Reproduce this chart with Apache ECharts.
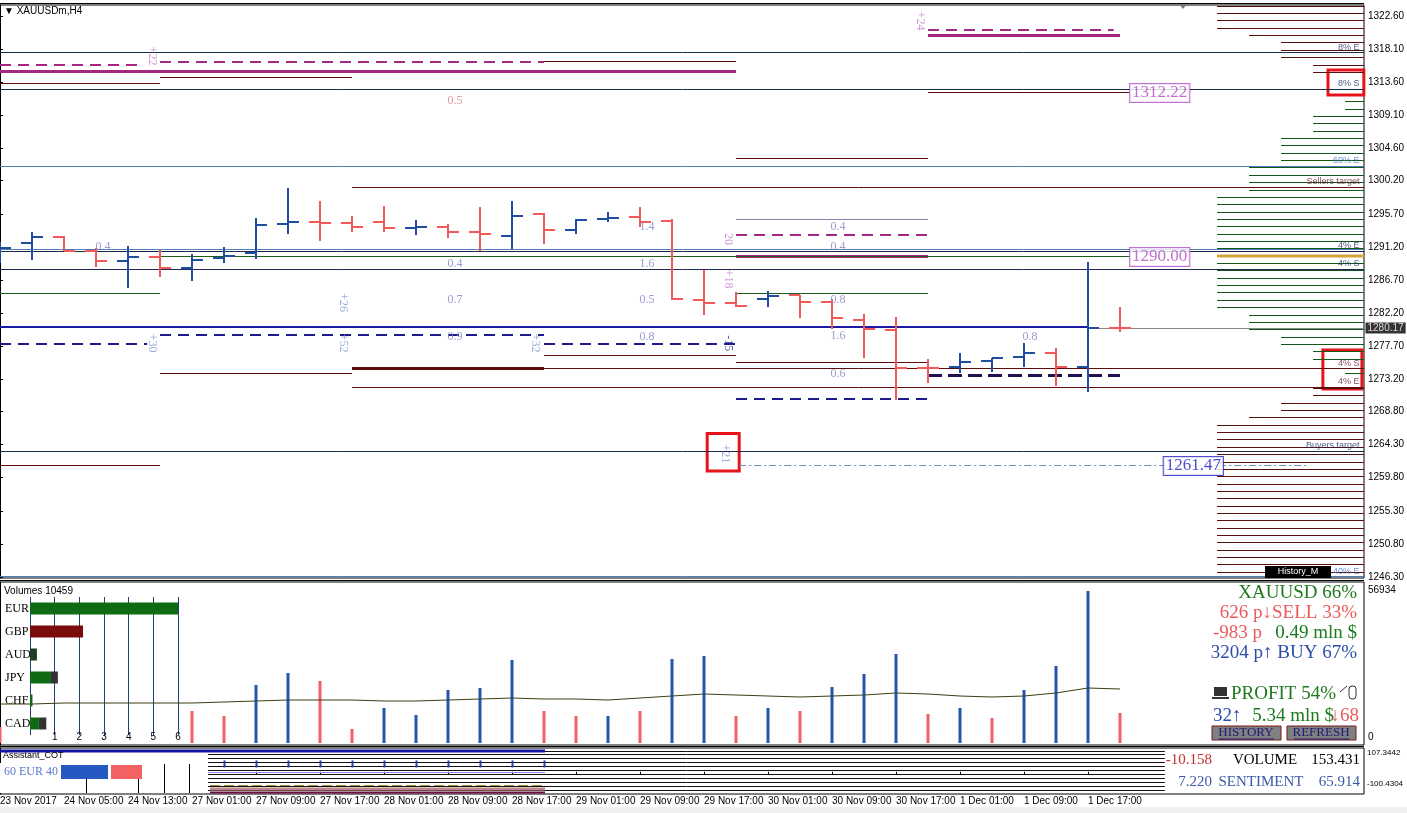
<!DOCTYPE html>
<html><head><meta charset="utf-8">
<script src="https://cdn.jsdelivr.net/npm/echarts@6/dist/echarts.min.js"></script>
<style>html,body{margin:0;padding:0;background:#fff;overflow:hidden}#c{width:1407px;height:813px}</style>
</head><body><div id="c"></div>
<script>
// ---------- DATA ----------
const times = ['23 Nov 21:00','24 Nov 01:00','24 Nov 05:00','24 Nov 09:00','24 Nov 13:00','26 Nov 21:00',
 '27 Nov 01:00','27 Nov 05:00','27 Nov 09:00','27 Nov 13:00','27 Nov 17:00','27 Nov 21:00',
 '28 Nov 01:00','28 Nov 05:00','28 Nov 09:00','28 Nov 13:00','28 Nov 17:00','28 Nov 21:00',
 '29 Nov 01:00','29 Nov 05:00','29 Nov 09:00','29 Nov 13:00','29 Nov 17:00','29 Nov 21:00',
 '30 Nov 01:00','30 Nov 05:00','30 Nov 09:00','30 Nov 13:00','30 Nov 17:00','30 Nov 21:00',
 '1 Dec 01:00','1 Dec 05:00','1 Dec 09:00','1 Dec 13:00','1 Dec 17:00','1 Dec 21:00'];
const xTickIdx = [0,2,4,6,8,10,12,14,16,18,20,22,24,26,28,30,32,34];
const xTickLabels = ['23 Nov 2017','24 Nov 05:00','24 Nov 13:00','27 Nov 01:00','27 Nov 09:00','27 Nov 17:00',
 '28 Nov 01:00','28 Nov 09:00','28 Nov 17:00','29 Nov 01:00','29 Nov 09:00','29 Nov 17:00',
 '30 Nov 01:00','30 Nov 09:00','30 Nov 17:00','1 Dec 01:00','1 Dec 09:00','1 Dec 17:00'];
// open, high, low, close
const ohlc = [
 [1290.09,1291.90,1289.01,1291.05],[1291.69,1293.26,1289.41,1292.58],[1292.58,1292.62,1290.62,1290.68],
 [1290.68,1291.00,1288.50,1289.28],[1289.28,1291.32,1285.56,1289.86],[1289.86,1290.77,1287.14,1288.28],
 [1288.28,1290.23,1286.60,1289.41],[1289.64,1291.22,1288.96,1289.96],[1290.41,1295.08,1289.51,1294.17],
 [1294.27,1299.17,1292.95,1294.62],[1294.62,1297.48,1292.04,1294.41],[1294.41,1295.40,1293.26,1293.94],
 [1294.62,1296.76,1293.18,1293.81],[1293.70,1294.85,1292.81,1293.90],[1293.94,1294.27,1292.37,1293.26],
 [1293.26,1296.66,1290.68,1292.91],[1292.72,1297.48,1290.87,1295.44],[1295.63,1295.77,1291.55,1293.49],
 [1293.49,1294.95,1292.91,1294.85],[1294.99,1295.90,1294.62,1295.17],[1295.30,1296.66,1293.94,1294.62],
 [1294.72,1294.95,1283.97,1284.07],[1283.97,1288.05,1281.93,1283.61],[1283.52,1285.02,1282.98,1283.16],
 [1284.11,1285.20,1283.06,1284.52],[1284.65,1284.70,1281.48,1283.74],[1283.66,1284.11,1279.99,1281.48],
 [1281.25,1282.03,1276.13,1280.03],[1279.89,1281.70,1270.37,1274.77],[1274.77,1275.95,1272.64,1274.68],
 [1274.90,1276.72,1274.00,1275.58],[1275.72,1276.10,1274.22,1276.04],[1276.18,1278.08,1274.90,1276.80],
 [1276.80,1277.40,1272.32,1274.90],[1274.90,1289.18,1271.50,1280.12],[1280.23,1283.06,1279.66,1280.17]];
const volumes = [5950,null,null,null,null,null,11900,10050,21580,26050,23070,5210,13020,10420,19720,20470,30890,11910,
 10050,10050,11910,31260,32370,10050,13020,11910,20840,25680,33120,10790,13020,9300,19720,28650,56560,11160];
const volUp = [0,null,null,null,null,null,0,0,1,1,0,0,1,1,1,1,1,0,0,1,0,1,1,0,1,0,1,1,1,0,1,0,1,1,1,0];
const volMA = [14512,14512,14884,14884,14884,14884,14884,15256,15628,16000,16000,16000,15628,15628,16000,16372,16745,16372,
 16372,16000,16745,17489,18233,17861,17489,17117,17489,17861,18605,18233,17489,17117,17489,18605,20466,20093];
const yTicks = [1246.30,1250.80,1255.30,1259.80,1264.30,1268.80,1273.20,1277.70,1282.20,1286.70,1291.20,1295.70,1300.20,1304.60,1309.10,1313.60,1318.10,1322.60];
const lastPrice = 1280.17;
const volMaxLabel = 56934;
// volume profile (price level, signed strength: + buyers, - sellers)
const profPrices = [1324,1323,1322,1321,1320,1319,1318,1317,1316,1315,1314,1313,1312,1311,1310,1309,1308,1307,1306,1305,
 1304,1303,1302,1301,1300,1299,1298,1297,1296,1295,1294,1293,1292,1291,1290,1289,1288,1287,1286,1285,1284,1283,1282,1281,
 1280,1279,1278,1277,1276,1275,1274,1273,1272,1271,1270,1269,1268,1267,1266,1265,1264,1263,1262,1261,1260,1259,1258,1257,
 1256,1255,1254,1253,1252,1251,1250,1249,1248,1247];
const profStrength = [-5,-5,-5,-5,-4,-3,-3,-3,-2,-2,0,0,0,1,1,2,2,2,3,3,3,3,4,4,4,4,5,5,5,5,5,5,5,5,5,5,5,5,5,5,5,5,4,4,
 4,3,3,2,2,0,1,0,-2,-2,-3,-3,-4,-5,-5,-5,-5,-5,-5,-5,-5,-5,-5,-5,-5,-5,-5,-5,-5,-5,-5,-5,-5,-5];
const profPOC = 1290;
// horizontal level segments: [price, fromBar, toBar]
const segNavy = [[1317.70,0,42.7],[1312.67,0,42.7],[1290.64,0,42.7],[1288.19,0,42.7],[1263.44,0,42.7]];
const segSteel = [[1302.20,0,42.7],[1290.91,0,42.7],[1246.40,0,42.7]];
const segDarkRed = [[1313.53,0,5],[1314.34,5,11],[1316.48,17,23],[1312.22,29,35.3],[1303.29,23,29],[1299.34,11,42.7],
 [1276.49,17,23],[1275.54,23,29],[1274.72,11,42.7],[1274.00,5,11],[1272.18,11,42.7],[1261.54,0,5]];
const segDarkRedThick = [[1274.72,11,17]];
const segMagentaThick = [[1315.12,0,23],[1320.02,29,35],[1289.96,23,29]];
const segMagentaDash = [[1315.93,0,4.3],[1316.30,5,17],[1320.70,29,34.8],[1292.81,23,29]];
const segGreen = [[1290.00,5,35.3],[1284.92,0,5],[1284.92,23,29]];
const segBlue = [[1280.29,0,34]];
const segGray = [[1280.17,34,42.7]];
const segBlueDash = [[1278.03,0,4.6],[1279.21,5,17],[1278.03,17,23],[1270.51,23,29]];
const segNavyDashThick = [[1273.77,29,35]];
const segLavender = [[1294.99,23,29]];
const segDashDot = [[1261.47,23.1,40.9]];
const levelLabels = [[1317.70,'8% E','navy'],[1312.67,'8% S','navy'],[1302.20,'60% E','steel'],[1299.34,'Sellers target','red'],
 [1290.64,'4% E','navy'],[1288.19,'4% S','navy'],[1274.72,'4% S','red'],[1272.18,'4% E','red'],[1263.44,'Buyers target','navy'],[1246.40,'40% E','steel']];
const numNotes = [[3.22,1291.18,'0.4'],[14.22,1311.04,'0.5'],[14.22,1288.87,'0.4'],[14.22,1283.97,'0.7'],[14.22,1278.94,'0.9'],
 [20.22,1293.90,'1.4'],[20.22,1288.87,'1.6'],[20.22,1283.97,'0.5'],[20.22,1278.94,'0.8'],
 [26.19,1293.90,'0.4'],[26.19,1291.18,'0.4'],[26.19,1283.97,'0.8'],[26.19,1279.07,'1.6'],[26.19,1273.94,'0.6'],[32.19,1278.94,'0.8']];
const vertNotes = [[4.75,1317.16,'+22','p'],[28.75,1321.92,'+24','p'],[22.75,1292.27,'20','p'],[22.75,1286.83,'+18','p'],
 [10.72,1283.61,'+26','b'],[4.75,1278.10,'+30','b'],[10.72,1278.10,'+52','b'],[16.72,1278.10,'+32','b'],[22.75,1278.10,'-15','d'],[22.66,1263.03,'+21','b']];
const boxLabels = [[35.3,1312.13,'1312.22','v'],[35.3,1289.82,'1290.00','v'],[36.35,1261.40,'1261.47','b']];
const redBoxes = [[41.5,1315.26,42.62,1311.85],[41.34,1277.17,42.56,1271.87],[22.1,1265.8,23.1,1260.7]];
// currency strength panel
const currencies = ['EUR','GBP','AUD','JPY','CHF','CAD'];
const currMain = [6.05,2.15,0.28,0.85,0.10,0.36];
const currExtra = [0,0,0,0.28,0,0.30];
const currTicks = [1,2,3,4,5,6];
// COT panel
const cotLevels = [96,78,60,42,24,6,-12,-30,-48,-66,-84];
const cotTickBars = [7,8,9,10,11,12,13,14,15,16,17];
const cotHigh = 107.3442, cotLow = -100.4304;
const cotVolume = [-10.158, 153.431];
const cotSentiment = [7.220, 65.914];
// info panel
const info = {sym:'XAUUSD 66%', sellP:626, sellPct:33, lossP:-983, mln1:0.49, buyP:3204, buyPct:67, profit:54, up:32, mln2:5.34, down:68};

// ---------- CHART ----------
const W = 42.625;
const C = {up:'#1f4fa3', down:'#f05a5a', navy:'#1c2b4c', steel:'#4f7fb5', red:'#5e0c0c', mag:'#a3287f', green:'#1b5e1b',
  blue:'#1a1aa5', gray:'#8a8a8a', bdash:'#1c1c8c', ndash:'#24104e', lav:'#8585b8', dd:'#6f8fbf'};
const chart = echarts.init(document.getElementById('c'), null, {renderer:'canvas'});
const yMin = 1246.162, yMax = 1324.096;
const snap = v => Math.round(v) + 0.5;
const clear = {color:'rgba(0,0,0,0)'};

function segSeries(data, color, width, dash, z) {
  return {type:'custom', xAxisIndex:0, yAxisIndex:0, clip:true, silent:true, z: z||2,
    data: data.map(d => [d[1], d[2], d[0]]), encode:{x:[0,1], y:2},
    renderItem(p, api) {
      const a = api.coord([api.value(0), api.value(2)]), b = api.coord([api.value(1), api.value(2)]);
      const y = width % 2 ? snap(a[1]) : Math.round(a[1]);
      return {type:'line', shape:{x1:a[0], y1:y, x2:b[0], y2:y},
        style:{stroke:color, lineWidth:width, lineDash:dash||null}};
    }};
}
const labelColor = {navy:'#1c2b5c', steel:'#4a78c8', red:'#6a1a2a'};
const vertColor = {p:'#c07ec8', b:'#7f95d4', d:'#2a3596'};

const series = [
  segSeries(segSteel, C.steel, 1),
  segSeries(segNavy, C.navy, 1),
  segSeries(segDarkRed, C.red, 1),
  segSeries(segDarkRedThick, C.red, 3),
  segSeries(segMagentaDash, C.mag, 2, [11,7]),
  segSeries(segMagentaThick, C.mag, 3),
  segSeries(segGreen, C.green, 1),
  segSeries(segBlue, C.blue, 2),
  segSeries(segGray, C.gray, 1),
  segSeries(segBlueDash, C.bdash, 2, [11,7]),
  segSeries(segNavyDashThick, C.ndash, 3, [14,6]),
  segSeries(segLavender, C.lav, 1),
  segSeries(segDashDot, C.dd, 1, [7,3,2,3]),
  // OHLC bars
  {type:'custom', xAxisIndex:0, yAxisIndex:0, clip:true, z:5,
   data: ohlc.map((d,i)=>[i, d[0], d[1], d[2], d[3]]), encode:{x:0, y:[1,2,3,4]},
   renderItem(p, api) {
     const i = api.value(0), o = api.value(1), h = api.value(2), l = api.value(3), c = api.value(4);
     const col = c >= o ? C.up : C.down;
     const pH = api.coord([i,h]), pL = api.coord([i,l]), pO = api.coord([i,o]), pC = api.coord([i,c]);
     const x = Math.round(pH[0]);
     const st = {stroke:col, lineWidth:2};
     return {type:'group', children:[
       {type:'line', shape:{x1:x, y1:Math.round(pH[1]), x2:x, y2:Math.round(pL[1])}, style:st},
       {type:'line', shape:{x1:x-11, y1:Math.round(pO[1]), x2:x, y2:Math.round(pO[1])}, style:st},
       {type:'line', shape:{x1:x, y1:Math.round(pC[1]), x2:x+11, y2:Math.round(pC[1])}, style:st}]};
   }},
  // numeric notes
  {type:'scatter', xAxisIndex:0, yAxisIndex:0, symbolSize:1, z:6, silent:true, itemStyle:clear,
   data: numNotes.map(d=>({value:[d[0],d[1]], label:{formatter:d[2], color: d[2]==='0.5'&&d[1]>1300 ? '#d88080' : '#8282c8'}})),
   label:{show:true, position:'inside', fontFamily:'Liberation Serif', fontSize:12}},
  // vertical notes
  {type:'scatter', xAxisIndex:0, yAxisIndex:0, symbolSize:1, z:6, silent:true, itemStyle:clear,
   data: vertNotes.map(d=>({value:[d[0],d[1]], label:{formatter:d[2], color:vertColor[d[3]]}})),
   label:{show:true, position:'inside', rotate:-90, fontFamily:'Liberation Serif', fontSize:12}},
  // boxed labels
  {type:'scatter', xAxisIndex:0, yAxisIndex:0, symbolSize:1, z:7, silent:true, itemStyle:clear,
   data: boxLabels.map(d=>({value:[d[0],d[1]], label:{formatter:d[2], color: d[3]==='v'?'#b04cc4':'#2020c0',
      borderColor: d[3]==='v'?'#b04cc4':'#2020c0', backgroundColor:'#fff'}})),
   label:{show:true, position:'right', distance:0, fontFamily:'Liberation Serif', fontSize:17, borderWidth:1, padding:[1,2,0,2]}},
  // level labels
  {type:'scatter', xAxisIndex:0, yAxisIndex:0, symbolSize:1, z:7, silent:true, itemStyle:clear,
   data: levelLabels.map(d=>({value:[42.5,d[0]], label:{formatter:d[1], color:labelColor[d[2]]}})),
   label:{show:true, position:[0,0], align:'right', verticalAlign:'bottom', fontFamily:'Liberation Sans', fontSize:9}},
  // last price tag + red annotation boxes
  {type:'scatter', xAxisIndex:0, yAxisIndex:0, symbolSize:1, z:8, silent:true, itemStyle:clear, clip:false,
   data:[{value:[W, lastPrice], label:{formatter: lastPrice.toFixed(2)}}],
   label:{show:true, position:'right', distance:1, color:'#fff', backgroundColor:'#000', fontFamily:'Liberation Sans', fontSize:10, padding:[1,2,0,2]},
   markArea:{silent:true, itemStyle:{color:'rgba(0,0,0,0)', borderColor:'#e8141c', borderWidth:3},
     data: redBoxes.map(b=>[{coord:[b[0],b[1]]},{coord:[b[2],b[3]]}])}},
  // volume profile
  {type:'custom', xAxisIndex:1, yAxisIndex:1, clip:true, silent:true, z:3,
   data: profPrices.map((p,i)=>[Math.abs(profStrength[i]), p, profStrength[i]]).filter(d=>d[0]>0), encode:{x:0, y:1},
   renderItem(p, api) {
     const a = api.coord([api.value(0), api.value(1)]), b = api.coord([0.406, api.value(1)]);
     const poc = api.value(1) === profPOC;
     const col = poc ? '#d2a638' : (api.value(2) > 0 ? '#14561a' : '#560e0e');
     const y = poc ? Math.round(a[1]) : snap(a[1]);
     return {type:'line', shape:{x1:a[0], y1:y, x2:b[0], y2:y}, style:{stroke:col, lineWidth: poc?3:1}};
   }},
  // volumes
  {type:'bar', xAxisIndex:2, yAxisIndex:2, barWidth:3, silent:true, z:3,
   data: volumes.map((v,i)=>({value:[i,v], itemStyle:{color: volUp[i] ? '#2354b0' : '#f26060'}}))},
  {type:'line', xAxisIndex:2, yAxisIndex:2, symbol:'none', silent:true, z:4,
   data: volMA.map((v,i)=>[i,v]), lineStyle:{color:'#3c3c14', width:1}},
  // currency panel
  {type:'bar', xAxisIndex:3, yAxisIndex:3, stack:'c', barWidth:12, silent:true, z:5,
   data: currMain.map((v,i)=>({value:v, itemStyle:{color: i===1 ? '#7a0c0c' : (i===2 ? '#1e3d22' : '#0f6a14')}}))},
  {type:'bar', xAxisIndex:3, yAxisIndex:3, stack:'c', barWidth:12, silent:true, z:5,
   data: currExtra.map(v=>({value:v, itemStyle:{color:'#333'}}))},
  // COT panel lines
  {type:'custom', xAxisIndex:4, yAxisIndex:4, clip:true, silent:true, z:3,
   data: cotLevels.map(v=>[v]), encode:{y:0},
   renderItem(p, api) {
     const a = api.coord([6.5, api.value(0)]), b = api.coord([36.4, api.value(0)]);
     return {type:'line', shape:{x1:a[0], y1:snap(a[1]), x2:b[0], y2:snap(a[1])}, style:{stroke:'#111', lineWidth:1}};
   }},
  // COT ticks on lavender line
  {type:'custom', xAxisIndex:4, yAxisIndex:4, clip:true, silent:true, z:8,
   data: cotTickBars.map(v=>[v, 24]), encode:{x:0, y:1},
   renderItem(p, api) {
     const a = api.coord([api.value(0), api.value(1)]);
     return {type:'line', shape:{x1:Math.round(a[0])+0.5, y1:a[1]-6, x2:Math.round(a[0])+0.5, y2:a[1]+1}, style:{stroke:'#1f3f9a', lineWidth:2}};
   }}
];

const grids = [
  {left:0, top:5, width:1364, height:573},
  {left:1217, top:5, width:147, height:573},
  {left:0, top:582, width:1364, height:163},
  {left:30, top:597, width:148, height:138},
  {left:0, top:748, width:1364, height:46}
];
grids.forEach(g=>{g.outerBoundsMode='none'; g.containLabel=false;});
grids[0].show = true; grids[0].borderColor='#000'; grids[0].borderWidth=1;
grids[2].show = true; grids[2].borderColor='#000'; grids[2].borderWidth=1;
grids[4].show = true; grids[4].borderColor='#000'; grids[4].borderWidth=1;

const hiddenX = (gi, extra) => Object.assign({type:'value', gridIndex:gi, min:0, max:W, show:false}, extra||{});
const serif19 = '19px "Liberation Serif"';
const option = {
  animation:false, backgroundColor:'#fff',
  grid: grids,
  xAxis:[
    hiddenX(0),
    {type:'value', gridIndex:1, min:0.406, max:5, inverse:true, show:false},
    hiddenX(2),
    {type:'value', gridIndex:3, min:0, max:6, position:'bottom',
     axisLine:{show:false}, axisTick:{show:false},
     splitLine:{show:true, lineStyle:{color:'#1f3f80', width:1}},
     axisLabel:{show:true, customValues:currTicks, color:'#000', fontSize:10, fontFamily:'Liberation Sans', margin:-3},
     splitNumber:6, interval:1},
    {type:'value', gridIndex:4, min:0, max:W, position:'bottom',
     axisLine:{show:false}, splitLine:{show:false},
     axisTick:{show:true, customValues:xTickIdx, length:3, inside:false, lineStyle:{color:'#000'}},
     axisLabel:{show:true, customValues:xTickIdx, align:'left', margin:2, color:'#000', fontSize:10, fontFamily:'Liberation Sans',
       formatter: v => xTickLabels[xTickIdx.indexOf(Math.round(v))] || ''}}
  ],
  yAxis:[
    {type:'value', gridIndex:0, min:yMin, max:yMax, position:'right',
     axisLine:{show:true, lineStyle:{color:'#000'}}, splitLine:{show:false},
     axisTick:{show:true, customValues:yTicks, length:3, lineStyle:{color:'#000'}},
     axisLabel:{show:true, customValues:yTicks, formatter:v=>v.toFixed(2), color:'#000', fontSize:10, fontFamily:'Liberation Sans', margin:4}},
    {type:'value', gridIndex:1, min:yMin, max:yMax, show:false},
    {type:'value', gridIndex:2, min:-744, max:59910, position:'right',
     axisLine:{show:true, lineStyle:{color:'#000'}}, splitLine:{show:false},
     axisTick:{show:false},
     axisLabel:{show:true, customValues:[0, volMaxLabel], color:'#000', fontSize:10, fontFamily:'Liberation Sans', margin:4,
       formatter: v => v===0 ? '{z|0}' : String(volMaxLabel),
       rich:{z:{padding:[0,0,12,0], fontSize:10, fontFamily:'Liberation Sans', color:'#000'}}}},
    {type:'category', gridIndex:3, data:currencies, inverse:true,
     axisLine:{show:false}, axisTick:{show:false}, splitLine:{show:false},
     axisLabel:{color:'#000', fontSize:12, fontFamily:'Liberation Serif', align:'left', margin:25}},
    {type:'value', gridIndex:4, min:cotLow, max:cotHigh, position:'right',
     axisLine:{show:true, lineStyle:{color:'#000'}}, splitLine:{show:false}, axisTick:{show:false},
     axisLabel:{show:true, customValues:[cotHigh, cotLow], margin:3,
       formatter: v => v > 0 ? '{t|' + v.toFixed(4) + '}' : '{b|' + v.toFixed(4) + '}',
       rich:{t:{padding:[10,0,0,0], fontSize:8, fontFamily:'Liberation Sans', color:'#000'},
             b:{padding:[0,0,20,0], fontSize:8, fontFamily:'Liberation Sans', color:'#000'}}}}
  ],
  series: series,
  graphic:[
    {type:'rect', z:0, shape:{x:0, y:807, width:1407, height:6}, style:{fill:'#f0f0f0'}},
    {type:'line', z:9, shape:{x1:0, y1:3.5, x2:1364, y2:3.5}, style:{stroke:'#000', lineWidth:1}},
    {type:'text', left:4, top:6, style:{text:'\u25BC XAUUSDm,H4', fontSize:10, fontFamily:'Liberation Sans', fill:'#000'}, z:20},
    {type:'polygon', shape:{points:[[1179,4],[1187,4],[1183,9]]}, style:{fill:'#777'}, z:20},
    {type:'text', left:4, top:586, style:{text:'Volumes 10459', fontSize:10, fontFamily:'Liberation Sans', fill:'#000'}, z:20},
    {type:'rect', shape:{x:1265, y:566, width:66, height:12}, style:{fill:'#000'}, z:20},
    {type:'text', x:1298, y:572, style:{text:'History_M', fontSize:9, fontFamily:'Liberation Sans', fill:'#fff', align:'center', verticalAlign:'middle'}, z:21},
    // info panel
    {type:'text', x:1357, y:593, z:20, style:{text:info.sym, align:'right', verticalAlign:'middle', fill:'#1e7a1e', font:serif19}},
    {type:'text', x:1357, y:613, z:20, style:{text:info.sellP+' p\u2193SELL '+info.sellPct+'%', align:'right', verticalAlign:'middle', fill:'#ec5a5a', font:serif19}},
    {type:'text', x:1357, y:633, z:20, style:{text:info.mln1.toFixed(2)+' mln $', align:'right', verticalAlign:'middle', fill:'#1e7a1e', font:serif19}},
    {type:'text', x:1213, y:633, z:20, style:{text:info.lossP+' p', align:'left', verticalAlign:'middle', fill:'#ec5a5a', font:serif19}},
    {type:'text', x:1357, y:653, z:20, style:{text:info.buyP+' p\u2191 BUY '+info.buyPct+'%', align:'right', verticalAlign:'middle', fill:'#2b4fa8', font:serif19}},
    {type:'rect', z:20, shape:{x:1214, y:687, width:13, height:9}, style:{fill:'#333'}},
    {type:'rect', z:20, shape:{x:1212, y:697, width:17, height:2}, style:{fill:'#333'}},
    {type:'text', x:1231, y:694, z:20, style:{text:'PROFIT '+info.profit+'%', align:'left', verticalAlign:'middle', fill:'#1e7a1e', font:serif19}},
    {type:'line', z:20, shape:{x1:1340, y1:692, x2:1347, y2:686}, style:{stroke:'#333', lineWidth:1}},
    {type:'rect', z:20, shape:{x:1349, y:686, width:7, height:13, r:3}, style:{fill:'none', stroke:'#333', lineWidth:1}},
    {type:'text', x:1213, y:716, z:20, style:{text:info.up+'\u2191', align:'left', verticalAlign:'middle', fill:'#2b4fa8', font:serif19}},
    {type:'text', x:1334, y:716, z:20, style:{text:info.mln2.toFixed(2)+' mln $', align:'right', verticalAlign:'middle', fill:'#1e7a1e', font:serif19}},
    {type:'text', x:1359, y:716, z:20, style:{text:'\u2193'+info.down, align:'right', verticalAlign:'middle', fill:'#ec5a5a', font:serif19}},
    {type:'rect', z:20, shape:{x:1212, y:726, width:69, height:14}, style:{fill:'#808080', stroke:'#7a1a1a', lineWidth:1}},
    {type:'rect', z:20, shape:{x:1287, y:726, width:69, height:14}, style:{fill:'#808080', stroke:'#7a1a1a', lineWidth:1}},
    {type:'text', x:1246, y:733, z:21, style:{text:'HISTORY', align:'center', verticalAlign:'middle', fill:'#1a1a7a', font:'13px "Liberation Serif"'}},
    {type:'text', x:1321, y:733, z:21, style:{text:'REFRESH', align:'center', verticalAlign:'middle', fill:'#1a1a7a', font:'13px "Liberation Serif"'}},
    {type:'line', z:21, shape:{x1:1219, y1:739, x2:1274, y2:739}, style:{stroke:'#1a1a7a', lineWidth:1}},
    {type:'line', z:21, shape:{x1:1294, y1:739, x2:1349, y2:739}, style:{stroke:'#1a1a7a', lineWidth:1}},
    // COT panel decorations
    {type:'line', z:6, shape:{x1:0, y1:751, x2:545, y2:751}, style:{stroke:'#1414a0', lineWidth:3}},
    {type:'text', left:3, top:751, z:7, style:{text:'Assistant_COT', fontSize:9, fontFamily:'Liberation Sans', fill:'#000'}},
    {type:'line', z:6, shape:{x1:0, y1:772.5, x2:545, y2:772.5}, style:{stroke:'#8c8cf0', lineWidth:1}},
    {type:'rect', z:6, shape:{x:0, y:763, width:208, height:30}, style:{fill:'#fff'}},
    {type:'line', z:7, shape:{x1:86.5, y1:779, x2:86.5, y2:793}, style:{stroke:'#000', lineWidth:1}},
    {type:'line', z:7, shape:{x1:138.5, y1:779, x2:138.5, y2:793}, style:{stroke:'#000', lineWidth:1}},
    {type:'line', z:7, shape:{x1:164.5, y1:764, x2:164.5, y2:793}, style:{stroke:'#000', lineWidth:1}},
    {type:'line', z:7, shape:{x1:189.5, y1:764, x2:189.5, y2:793}, style:{stroke:'#000', lineWidth:1}},
    {type:'text', x:4, y:772, z:7, style:{text:'60 EUR 40', verticalAlign:'middle', fill:'#5a7ad0', font:'12px "Liberation Serif"'}},
    {type:'rect', z:7, shape:{x:61, y:765, width:47, height:14}, style:{fill:'#2757c0'}},
    {type:'rect', z:7, shape:{x:111, y:765, width:31, height:14}, style:{fill:'#f26262'}},
    {type:'line', z:6, shape:{x1:210, y1:785.5, x2:545, y2:785.5}, style:{stroke:'#a08a30', lineWidth:1, lineDash:[10,4]}},
    {type:'line', z:6, shape:{x1:210, y1:789, x2:545, y2:789}, style:{stroke:'#c08888', lineWidth:3}},
    {type:'line', z:6, shape:{x1:210, y1:792.5, x2:545, y2:792.5}, style:{stroke:'#6a1040', lineWidth:2}},
    {type:'text', x:1212, y:760, z:7, style:{text:cotVolume[0].toFixed(3), align:'right', verticalAlign:'middle', fill:'#c03030', font:'15px "Liberation Serif"'}},
    {type:'text', x:1265, y:760, z:7, style:{text:'VOLUME', align:'center', verticalAlign:'middle', fill:'#000', font:'15px "Liberation Serif"'}},
    {type:'text', x:1360, y:760, z:7, style:{text:cotVolume[1].toFixed(3), align:'right', verticalAlign:'middle', fill:'#000', font:'15px "Liberation Serif"'}},
    {type:'text', x:1212, y:782, z:7, style:{text:cotSentiment[0].toFixed(3), align:'right', verticalAlign:'middle', fill:'#3a5aa8', font:'15px "Liberation Serif"'}},
    {type:'text', x:1261, y:782, z:7, style:{text:'SENTIMENT', align:'center', verticalAlign:'middle', fill:'#3a5aa8', font:'15px "Liberation Serif"'}},
    {type:'text', x:1360, y:782, z:7, style:{text:cotSentiment[1].toFixed(3), align:'right', verticalAlign:'middle', fill:'#3a5aa8', font:'15px "Liberation Serif"'}},
    // panel separators
    {type:'line', z:9, shape:{x1:0, y1:580.5, x2:1364, y2:580.5}, style:{stroke:'#000', lineWidth:1}},
    {type:'line', z:9, shape:{x1:0, y1:746.5, x2:1364, y2:746.5}, style:{stroke:'#000', lineWidth:1}}
  ]
};
chart.setOption(option);
</script></body></html>
